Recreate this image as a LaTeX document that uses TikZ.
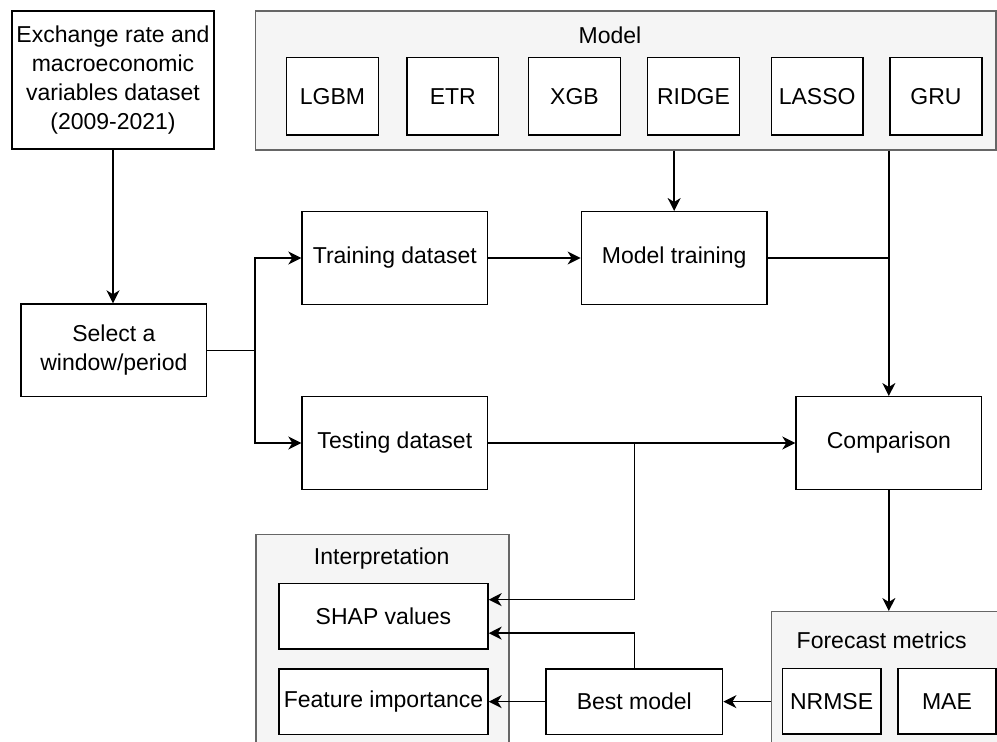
\documentclass[tikz,border=0pt]{standalone}
\usepackage{fontspec}
\setmainfont{Liberation Sans}
\usetikzlibrary{arrows.meta}
\definecolor{grayline}{HTML}{666666}
\definecolor{graybg}{HTML}{F5F5F5}
\tikzset{
 box/.style={draw=black, line width=1.4pt, fill=white, inner sep=0pt, align=center, font=\fontsize{23}{29}\selectfont},
 cont/.style={draw=grayline, line width=1.4pt, fill=graybg, inner sep=0pt},
 lbl/.style={font=\fontsize{23}{29}\selectfont, inner sep=0pt},
 conn/.style={line width=1.4pt, draw=black},
 arr/.style={conn, -{Stealth[length=13pt,width=13pt,inset=4pt]}}
}
\newcommand{\rbox}[7]{\node[#1, minimum width={(#5-#3)*1pt}, minimum height={(#6-#4)*1pt}] (#2) at ({(#3+#5)/2},{(#4+#6)/2}) {#7};}
\begin{document}
\begin{tikzpicture}[x=1pt,y=-1pt]
\clip (0,0) rectangle (997,742);
\fill[white] (0,0) rectangle (997,742);
% containers
\rbox{cont}{model}{255.7}{11}{996}{150}{}
\rbox{cont}{interp}{256}{534.3}{509}{770}{}
\rbox{cont}{fm}{771.3}{611.7}{1006}{770}{}
\node[lbl] (modellbl) at (610,35) {Model};
\node[lbl] (interplbl) at (381.7,558.3) {Interpretation};
\node[lbl] (fmlbl) at (881.7,640) {Forecast metrics};
% model boxes
\rbox{box}{lgbm}{286.7}{57.3}{378.3}{135}{LGBM}
\rbox{box}{etr}{407}{57.3}{498.7}{135}{ETR}
\rbox{box}{xgb}{528.7}{57.3}{620.3}{135}{XGB}
\rbox{box}{ridge}{647.7}{57.3}{739.3}{135}{RIDGE}
\rbox{box}{lasso}{771.3}{57.3}{863}{135}{LASSO}
\rbox{box}{gru}{890}{57.3}{982}{135}{GRU}
% main boxes
\rbox{box}{exch}{12}{11}{214}{149}{Exchange rate and\\macroeconomic\\variables dataset\\(2009-2021)}
\rbox{box}{sel}{21}{304}{206.7}{396.7}{Select a\\window/period}
\rbox{box}{train}{302}{211.7}{487.7}{304.3}{Training dataset}
\rbox{box}{test}{302}{396.7}{487.7}{489.3}{Testing dataset}
\rbox{box}{mtrain}{581.3}{211.7}{767}{304.3}{Model training}
\rbox{box}{comp}{796}{396.7}{981.7}{489.3}{Comparison}
\rbox{box}{shap}{279}{583.3}{488}{649}{SHAP values}
\rbox{box}{feat}{279}{669}{488}{734.3}{Feature importance}
\rbox{box}{best}{546}{669}{722.7}{734.3}{Best model}
\rbox{box}{nrmse}{782.3}{668.3}{881}{734}{NRMSE}
\rbox{box}{mae}{898}{668.3}{996}{734}{MAE}
% connectors
\draw[arr] (exch.south) -- (exch.south |- sel.north);
\coordinate (j1) at ([xshift=47.6pt]sel.east);
\draw[conn] (sel.east) -- (j1);
\draw[arr] (j1) |- (train.west);
\draw[arr] (j1) |- (test.west);
\draw[arr] (train) -- (mtrain);
\draw[arr] (model.south -| mtrain.north) -- (mtrain.north);
\draw[arr] (model.south -| comp.north) -- (comp.north);
\draw[conn] (mtrain.east) -- (mtrain.east -| comp.north);
\draw[arr] (test) -- (comp);
\coordinate (j2) at (test.east -| best.north);
\draw[arr] (j2) |- ([yshift=16.5pt]shap.east);
\draw[arr] (best.north) |- ([yshift=-17pt]shap.east);
\draw[arr] (comp.south) -- (comp.south |- fm.north);
\draw[arr] (fm.west |- best.east) -- (best.east);
\draw[arr] (best) -- (feat);
\end{tikzpicture}
\end{document}
